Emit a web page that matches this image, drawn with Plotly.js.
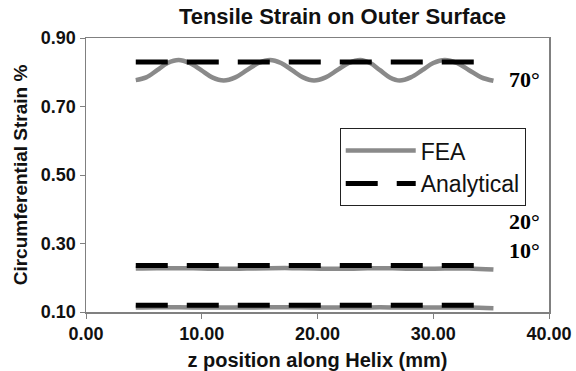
<!DOCTYPE html>
<html>
<head>
<meta charset="utf-8">
<script src="https://cdn.plot.ly/plotly-3.0.1.min.js"></script>
<style>
  html, body { margin: 0; padding: 0; background: #ffffff; }
  #chart { width: 576px; height: 371px; }
</style>
</head>
<body>
<div id="chart"></div>
<script>
// ---- data ----
const z70 = [4.3, 5.2, 6.15, 7.05, 8.0, 8.95, 9.95, 10.9, 11.9, 12.9, 13.9, 14.9, 15.9, 16.85, 17.8, 18.75, 19.7,
             20.7, 21.7, 22.7, 23.7, 24.55, 25.4, 26.25, 27.1, 28.05, 29.05, 30.0, 31.0, 32.05, 33.1, 34.15, 35.2];
const fea70 = [0.777, 0.785, 0.806, 0.827, 0.836, 0.827, 0.806, 0.785, 0.776, 0.785, 0.806, 0.827, 0.836, 0.827, 0.806, 0.785, 0.776,
               0.785, 0.806, 0.827, 0.836, 0.827, 0.806, 0.785, 0.776, 0.785, 0.806, 0.827, 0.836, 0.827, 0.806, 0.785, 0.775];
const zFlat = [4.3, 6.1, 8.0, 9.95, 11.9, 13.9, 15.9, 17.8, 19.7, 21.7, 23.7, 25.4, 27.1, 29.0, 31.0, 33.1, 35.2];
const fea20 = [0.227, 0.228, 0.228, 0.227, 0.226, 0.227, 0.228, 0.228, 0.227, 0.226, 0.227, 0.228, 0.227, 0.226, 0.227, 0.227, 0.224];
const fea10 = [0.113, 0.114, 0.114, 0.113, 0.113, 0.113, 0.114, 0.114, 0.113, 0.113, 0.113, 0.114, 0.113, 0.113, 0.113, 0.113, 0.111];
const zAnalytical = [4.3, 35.0];
const an70 = [0.830, 0.830];
const an20 = [0.236, 0.236];
const an10 = [0.120, 0.120];
const seriesNames = ['FEA', 'Analytical'];
const angleLabels = ['70°', '20°', '10°'];
const xTicks = [0, 10, 20, 30, 40];
const yTicks = [0.10, 0.30, 0.50, 0.70, 0.90];

const sans = 'Liberation Sans, Arial, Helvetica, sans-serif';
const serif = 'Liberation Serif, Times New Roman, serif';
const feaLine = { color: '#8a8a8a', width: 4.5, shape: 'spline', smoothing: 1 };
const anLine = { color: '#000000', width: 5, dash: '32px,19px' };

const feaSets = [[z70, fea70], [zFlat, fea20], [zFlat, fea10]];
const anSets = [an70, an20, an10];
const traces = [];
feaSets.forEach((s, i) => traces.push({
  x: s[0], y: s[1], type: 'scatter', mode: 'lines', name: seriesNames[0],
  line: feaLine, showlegend: i === 0, legendgroup: 'fea', hoverinfo: 'skip'
}));
anSets.forEach((ys, i) => traces.push({
  x: zAnalytical, y: ys, type: 'scatter', mode: 'lines', name: seriesNames[1],
  line: anLine, showlegend: i === 0, legendgroup: 'an', hoverinfo: 'skip'
}));

const labelY = [0.780, 0.363, 0.281];
const annotations = angleLabels.map((t, i) => ({
  x: 37.9, y: labelY[i], xref: 'x', yref: 'y', text: t, showarrow: false,
  xanchor: 'center', yanchor: 'middle',
  font: { family: serif, size: 22, color: '#000', weight: 'bold' }
}));

const layout = {
  width: 576, height: 371,
  margin: { l: 86, r: 27, t: 38, b: 59, pad: 0 },
  paper_bgcolor: '#ffffff', plot_bgcolor: '#ffffff',
  showlegend: true,
  title: {
    text: 'Tensile Strain on Outer Surface',
    font: { family: sans, size: 22, color: '#111', weight: 'bold' },
    x: 0.554, xanchor: 'center', xref: 'paper',
    y: 0.955, yanchor: 'middle', yref: 'container'
  },
  xaxis: {
    range: [0, 40], tickvals: xTicks, tickformat: '.2f',
    showline: true, linecolor: '#808080', linewidth: 1.5, mirror: true,
    ticks: 'outside', ticklen: 5, tickcolor: '#808080', tickwidth: 1,
    showgrid: false, zeroline: false,
    tickfont: { family: sans, size: 18, color: '#111', weight: 'bold' },
    title: { text: 'z position along Helix (mm)', standoff: 17,
             font: { family: sans, size: 20, color: '#111', weight: 'bold' } }
  },
  yaxis: {
    range: [0.1, 0.9], tickvals: yTicks, tickformat: '.2f',
    showline: true, linecolor: '#808080', linewidth: 1.5, mirror: true,
    ticks: 'outside', ticklen: 5, tickcolor: '#808080', tickwidth: 1,
    showgrid: false, zeroline: false,
    tickfont: { family: sans, size: 18, color: '#111', weight: 'bold' },
    title: { text: 'Circumferential Strain %', standoff: 8,
             font: { family: sans, size: 19, color: '#111', weight: 'bold' } }
  },
  legend: {
    x: 0.548, y: 0.671, xanchor: 'left', yanchor: 'top',
    bgcolor: '#ffffff', bordercolor: '#222', borderwidth: 1,
    itemwidth: 70, tracegroupgap: 0,
    font: { family: sans, size: 23, color: '#111' }
  },
  annotations: annotations
};

Plotly.newPlot('chart', traces, layout, { displayModeBar: false, staticPlot: true });
</script>
</body>
</html>
